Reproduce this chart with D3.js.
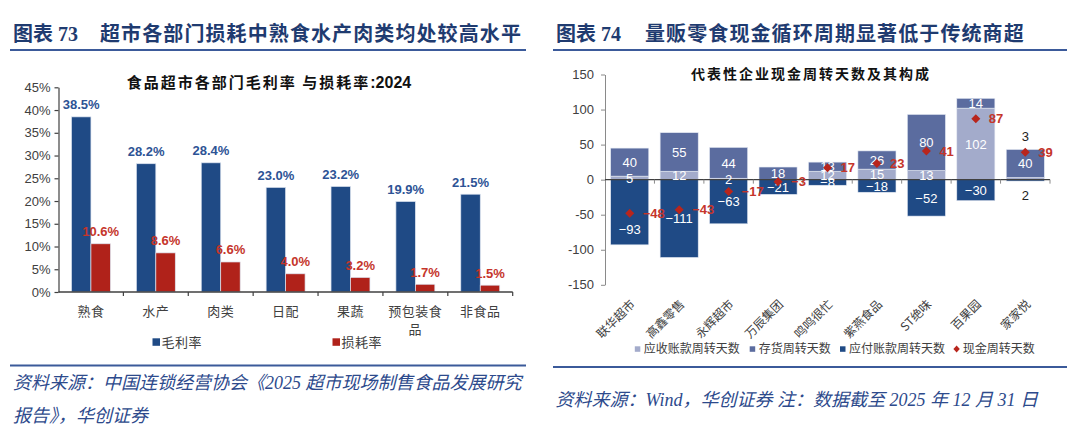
<!DOCTYPE html>
<html><head><meta charset="utf-8">
<script src="https://cdn.jsdelivr.net/npm/d3@7/dist/d3.min.js"></script>
<style>
html,body{margin:0;padding:0;background:#fff;}
svg{display:block;}
</style></head><body>
<svg id="c" width="1080" height="426"></svg>
<script>
// ---------- data: left chart ----------
const leftCategories = ["熟食","水产","肉类","日配","果蔬","预包装食品","非食品"];
const grossMargin = [38.5, 28.2, 28.4, 23.0, 23.2, 19.9, 21.5];
const lossRate = [10.6, 8.6, 6.6, 4.0, 3.2, 1.7, 1.5];
const leftTicks = [0, 5, 10, 15, 20, 25, 30, 35, 40, 45];
const leftSeriesNames = ["毛利率", "损耗率"];

// ---------- data: right chart ----------
const companies = ["联华超市","高鑫零售","永辉超市","万辰集团","鸣鸣很忙","紫燕食品","ST绝味","百果园","家家悦"];
const receivableDays = [5, 12, 2, 0, 12, 15, 13, 102, 3];
const inventoryDays = [40, 55, 44, 18, 13, 26, 80, 14, 40];
const payableDays = [-93, -111, -63, -21, -8, -18, -52, -30, -2];
const cashCycleDays = [-48, -43, -17, -3, 17, 23, 41, 87, 39];
const rightTicks = [-150, -100, -50, 0, 50, 100, 150];
const rightSeriesNames = ["应收账款周转天数", "存货周转天数", "应付账款周转天数", "现金周转天数"];

// ---------- text ----------
const leftHeadNum = "图表 73";
const leftHead = "超市各部门损耗中熟食水产肉类均处较高水平";
const leftTitle = "食品超市各部门毛利率 与损耗率";
const leftTitleYear = ":2024";
const leftSource = ["资料来源：中国连锁经营协会《2025 超市现场制售食品发展研究", "报告》，华创证券"];
const rightHeadNum = "图表 74";
const rightHead = "量贩零食现金循环周期显著低于传统商超";
const rightTitle = "代表性企业现金周转天数及其构成";
const rightSource = "资料来源：Wind，华创证券 注：数据截至 2025 年 12 月 31 日";

// ---------- styles ----------
const CJK = "'Noto Sans CJK SC', sans-serif";
const MIX = "'Liberation Serif','Noto Sans CJK SC',serif";
const SANS = "'Liberation Sans','Noto Sans CJK SC',Arial,sans-serif";
const HEAD_C = "#1F3B70", LINE_C = "#3B5A9A", SRC_C = "#2D4A8C", AX_C = "#404040";
const BLUE = "#1F4A85", RED = "#B0221A", BLUE_L = "#2D5395", RED_L = "#C5352B";
const C_AR = "#A3ABCB", C_INV = "#5B6C9F", C_AP = "#1F4A85", C_CCC = "#B8251C";

const svg = d3.select("#c");

function header(x0, x1, num, text, textX) {
  svg.append("text").attr("x", x0 + 3).attr("y", 41)
    .attr("font-family", MIX).attr("font-weight", "bold").attr("font-size", 20)
    .attr("fill", HEAD_C).text(num);
  svg.append("text").attr("x", textX).attr("y", 41)
    .attr("font-family", CJK).attr("font-weight", "bold").attr("font-size", 20)
    .attr("letter-spacing", 1.1).attr("fill", HEAD_C).text(text);
  svg.append("line").attr("x1", x0).attr("x2", x1).attr("y1", 50).attr("y2", 50)
    .attr("stroke", LINE_C).attr("stroke-width", 2);
}
header(10, 526, leftHeadNum, leftHead, 100);
header(553, 1067, rightHeadNum, rightHead, 645);

// ================= LEFT CHART =================
{
  const x = d3.scaleBand().domain(leftCategories).range([58.5, 512.7]).paddingInner(0.4).paddingOuter(0.2);
  const y = d3.scaleLinear().domain([0, 45]).range([292, 87.3]);
  const g = svg.append("g");
  const bw = x.bandwidth() / 2;

  const t = g.append("text").attr("x", 269).attr("y", 88).attr("text-anchor", "middle")
    .attr("font-family", CJK).attr("font-weight", "bold").attr("font-size", 15).attr("fill", "#111");
  t.append("tspan").attr("letter-spacing", 2).text(leftTitle);
  t.append("tspan").attr("font-family", SANS).attr("font-size", 16).text(leftTitleYear);

  const series = [grossMargin, lossRate];
  const fills = [BLUE, RED], lblC = [BLUE_L, RED_L];
  series.forEach((vals, si) => {
    g.selectAll(null).data(leftCategories).enter().append("rect")
      .attr("x", d => x(d) + si * bw).attr("width", bw)
      .attr("y", (d, i) => y(vals[i])).attr("height", (d, i) => y(0) - y(vals[i]))
      .attr("fill", fills[si]).attr("stroke", "#dde4f0").attr("stroke-width", 0.7);
    g.selectAll(null).data(leftCategories).enter().append("text")
      .attr("x", d => x(d) + si * bw + bw / 2).attr("y", (d, i) => y(vals[i]) - 7.5)
      .attr("text-anchor", "middle").attr("font-family", SANS).attr("font-weight", "bold")
      .attr("font-size", 13).attr("fill", lblC[si]).text((d, i) => vals[i].toFixed(1) + "%");
  });

  const ya = g.append("g").attr("transform", "translate(58.5,0)")
    .call(d3.axisLeft(y).tickValues(leftTicks).tickSize(4).tickSizeOuter(0).tickFormat(d => d + "%"));
  ya.selectAll("path,line").attr("stroke", AX_C).attr("stroke-width", 1.2);
  ya.selectAll("text").attr("font-family", SANS).attr("font-size", 13).attr("fill", AX_C).attr("x", -8);

  const step = x.step();
  g.append("line").attr("x1", 58.5).attr("x2", 512.7).attr("y1", y(0)).attr("y2", y(0))
    .attr("stroke", AX_C).attr("stroke-width", 1.4);
  g.selectAll(null).data(leftCategories).enter().append("line")
    .attr("x1", (d, i) => 58.5 + (i + 1) * step).attr("x2", (d, i) => 58.5 + (i + 1) * step)
    .attr("y1", y(0)).attr("y2", y(0) + 4).attr("stroke", AX_C).attr("stroke-width", 1.2);
  leftCategories.forEach(c => {
    const lines = [];
    for (let i = 0; i < c.length; i += 4) lines.push(c.slice(i, i + 4));
    const tx = g.append("text").attr("text-anchor", "middle").attr("font-family", CJK)
      .attr("font-size", 13).attr("fill", AX_C).attr("letter-spacing", 0.5);
    lines.forEach((l, li) => tx.append("tspan").attr("x", x(c) + x.bandwidth() / 2).attr("y", 316 + li * 17.5).text(l));
  });

  const lx = [152.5, 332.5];
  leftSeriesNames.forEach((n, i) => {
    g.append("rect").attr("x", lx[i]).attr("y", 338.3).attr("width", 7.5).attr("height", 7.5).attr("fill", fills[i]);
    g.append("text").attr("x", lx[i] + 9).attr("y", 346.5).attr("font-family", CJK).attr("font-size", 13)
      .attr("fill", AX_C).attr("letter-spacing", 0.5).text(n);
  });

  g.append("line").attr("x1", 10).attr("x2", 526).attr("y1", 365.5).attr("y2", 365.5)
    .attr("stroke", LINE_C).attr("stroke-width", 2);
  leftSource.forEach((s, i) => g.append("text").attr("x", 13).attr("y", 389 + i * 33)
    .attr("font-family", MIX).attr("font-style", "italic").attr("font-size", 18).attr("fill", SRC_C).text(s));
}

// ================= RIGHT CHART =================
{
  const x = d3.scaleBand().domain(companies).range([605, 1050]).paddingInner(0.23).paddingOuter(0.115);
  const y = d3.scaleLinear().domain([-150, 150]).range([284.8, 74.5]);
  const g = svg.append("g");
  const fmt = v => (v < 0 ? "\u2212" + Math.abs(v) : "" + v);

  g.append("text").attr("x", 811).attr("y", 79).attr("text-anchor", "middle")
    .attr("font-family", CJK).attr("font-weight", "bold").attr("font-size", 14)
    .attr("letter-spacing", 2).attr("fill", "#111").text(rightTitle);

  const ya = g.append("g").attr("transform", "translate(605,0)")
    .call(d3.axisLeft(y).tickValues(rightTicks).tickSize(4).tickSizeOuter(0).tickFormat(d => d));
  ya.selectAll("path,line").attr("stroke", "#8a8a8a").attr("stroke-width", 1);
  ya.selectAll("text").attr("font-family", SANS).attr("font-size", 13).attr("fill", AX_C).attr("x", -11);

  const stacks = companies.map((c, i) => ({
    c, i,
    segs: [
      { v: receivableDays[i], y0: 0, y1: receivableDays[i], fill: C_AR },
      { v: inventoryDays[i], y0: receivableDays[i], y1: receivableDays[i] + inventoryDays[i], fill: C_INV },
      { v: payableDays[i], y0: 0, y1: payableDays[i], fill: C_AP }
    ]
  }));

  stacks.forEach(s => {
    s.segs.forEach(sg => {
      if (sg.v === 0) return;
      g.append("rect").attr("x", x(s.c)).attr("width", x.bandwidth())
        .attr("y", y(Math.max(sg.y0, sg.y1))).attr("height", Math.abs(y(sg.y0) - y(sg.y1)))
        .attr("fill", sg.fill).attr("stroke", "#e3e8f2").attr("stroke-width", 0.6);
    });
  });

  const step = x.step();
  g.append("line").attr("x1", 605).attr("x2", 1050).attr("y1", y(0)).attr("y2", y(0))
    .attr("stroke", AX_C).attr("stroke-width", 1.2);
  g.selectAll(null).data(companies).enter().append("line")
    .attr("x1", (d, i) => 605 + (i + 1) * step).attr("x2", (d, i) => 605 + (i + 1) * step)
    .attr("y1", y(0)).attr("y2", y(0) + 4).attr("stroke", "#8a8a8a").attr("stroke-width", 1);

  stacks.forEach(s => {
    const cx = x(s.c) + x.bandwidth() / 2;
    const [ar, inv, ap] = s.segs;
    const mid = sg => y((sg.y0 + sg.y1) / 2);
    const dY = y(cashCycleDays[s.i]);
    let arY = mid(ar), apY = mid(ap), out = false;
    if (Math.abs(apY - dY) < 3) apY += 17;   // keep off the diamond
    const hAr = Math.abs(y(ar.v) - y(0)), hAp = Math.abs(y(ap.v) - y(0));
    if (ar.v !== 0 && hAr < 4 && hAp < 4) {  // both slivers: label outside the bar
      out = true;
      arY = y(ar.v + inv.v) - 13;
      apY = y(ap.y1) + 14;
    }
    const lab = (txt, yy, col) => g.append("text").attr("x", cx).attr("y", yy).attr("dy", "0.36em")
      .attr("text-anchor", "middle").attr("font-family", SANS).attr("font-size", 13).attr("fill", col).text(txt);
    if (ar.v !== 0) lab(out ? Math.abs(ar.v) : fmt(ar.v), arY, out ? "#222" : "#fff");
    lab(fmt(inv.v), mid(inv), "#fff");
    lab(out ? Math.abs(ap.v) : fmt(ap.v), apY, out ? "#222" : "#fff");
  });

  const dm = 4.5;
  companies.forEach((c, i) => {
    const cx = x(c) + x.bandwidth() / 2, cy = y(cashCycleDays[i]);
    g.append("path").attr("d", `M${cx},${cy - dm}L${cx + dm},${cy}L${cx},${cy + dm}L${cx - dm},${cy}Z`).attr("fill", C_CCC);
    g.append("text").attr("x", cx + 13).attr("y", cy).attr("dy", "0.36em")
      .attr("font-family", SANS).attr("font-weight", "bold").attr("font-size", 13).attr("fill", RED_L)
      .text(fmt(cashCycleDays[i]));
  });

  companies.forEach(c => {
    const cx = x(c) + x.bandwidth() / 2;
    g.append("text").attr("transform", `translate(${cx + 3},${302}) rotate(-45)`)
      .attr("text-anchor", "end").attr("dy", "0.35em").attr("font-family", CJK)
      .attr("font-size", 12).attr("fill", AX_C).text(c);
  });

  const legX = [634.8, 749.7, 840, 953.8];
  const legC = [C_AR, C_INV, C_AP, C_CCC];
  rightSeriesNames.forEach((n, i) => {
    if (i < 3) g.append("rect").attr("x", legX[i]).attr("y", 346.3).attr("width", 5.5).attr("height", 5.5).attr("fill", legC[i]);
    else g.append("path").attr("d", `M${legX[i] + 2.8},345.5L${legX[i] + 6},349L${legX[i] + 2.8},352.5L${legX[i] - 0.4},349Z`).attr("fill", legC[i]);
    g.append("text").attr("x", legX[i] + 9).attr("y", 349).attr("dy", "0.36em").attr("font-family", CJK)
      .attr("font-size", 12).attr("fill", AX_C).text(n);
  });

  g.append("line").attr("x1", 553).attr("x2", 1067).attr("y1", 367).attr("y2", 367)
    .attr("stroke", LINE_C).attr("stroke-width", 2);
  g.append("text").attr("x", 555.5).attr("y", 406).attr("font-family", MIX).attr("font-style", "italic")
    .attr("font-size", 18).attr("fill", SRC_C).text(rightSource);
}
</script>
</body></html>
